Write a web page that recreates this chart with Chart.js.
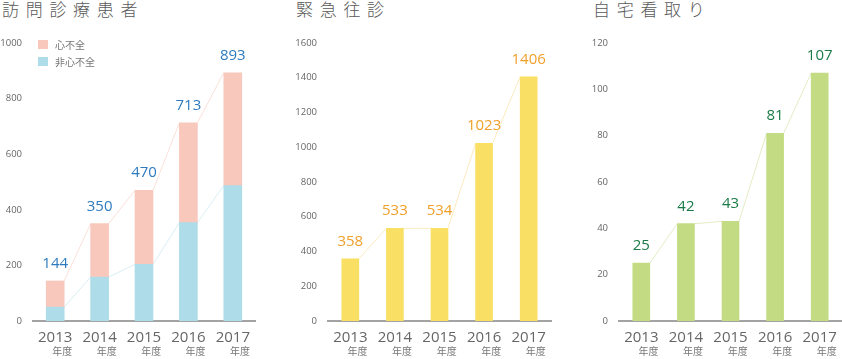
<!DOCTYPE html>
<html>
<head>
<meta charset="utf-8">
<script src="https://cdn.jsdelivr.net/npm/chart.js@4"></script>
<style>
  body { margin: 0; background: #fff; width: 842px; height: 359px; position: relative; overflow: hidden; }
  .title { position: absolute; top: -2px; font-family: "Noto Sans CJK JP", sans-serif; font-size: 17px; font-weight: 300;
           letter-spacing: 6.7px; color: #5a5a5a; line-height: 22px; white-space: nowrap; }
  canvas { position: absolute; top: 0; }
</style>
</head>
<body>
<div class="title" style="left:2px">訪問診療患者</div>
<div class="title" style="left:296px">緊急往診</div>
<div class="title" style="left:593px">自宅看取り</div>
<canvas id="c1" width="280" height="359" style="left:0px"></canvas>
<canvas id="c2" width="280" height="359" style="left:280px"></canvas>
<canvas id="c3" width="282" height="359" style="left:560px"></canvas>
<script>
// データ
const years = ['2013', '2014', '2015', '2016', '2017'];
const yearSuffix = '年度';
const heartFailure = [94, 192, 266, 359, 406];      // 心不全
const nonHeartFailure = [50, 158, 204, 354, 487];   // 非心不全
const emergencyVisits = [358, 533, 534, 1023, 1406]; // 緊急往診
const homeDeaths = [25, 42, 43, 81, 107];            // 自宅看取り

const yTicks1 = [0, 1000, 200];
const yTicks2 = [0, 1600, 200];
const yTicks3 = [0, 120, 20];

const patientTotals = years.map((y, i) => heartFailure[i] + nonHeartFailure[i]);

// 棒をつなぐ線、数値ラベル、年ラベル、凡例を描く
const decorPlugin = {
  id: 'decor',
  beforeDatasetsDraw(chart, args, opts) {
    const ctx = chart.ctx;
    (opts.lines || []).forEach(function(l) {
      const bars = chart.getDatasetMeta(l.dataset).data;
      ctx.save();
      ctx.strokeStyle = l.color;
      ctx.lineWidth = 1;
      ctx.beginPath();
      for (let i = 0; i < bars.length - 1; i++) {
        const a = bars[i], b = bars[i + 1];
        ctx.moveTo(a.x + a.width / 2, a.y);
        ctx.lineTo(b.x - b.width / 2, b.y);
      }
      ctx.stroke();
      ctx.restore();
    });
  },
  afterDraw(chart, args, opts) {
    const ctx = chart.ctx;
    const bottom = chart.chartArea.bottom;
    // 数値ラベル
    const topBars = chart.getDatasetMeta(opts.labelDataset).data;
    ctx.save();
    ctx.fillStyle = opts.labelColor;
    ctx.font = '15px "Open Sans"';
    ctx.textAlign = 'center';
    ctx.textBaseline = 'alphabetic';
    topBars.forEach((bar, i) => ctx.fillText(String(opts.labelValues[i]), bar.x, bar.y - 13));
    // 年ラベル
    const xs = chart.scales.x;
    years.forEach(function(y, i) {
      const x = xs.getPixelForTick(i);
      ctx.font = '15px "Open Sans"';
      ctx.fillStyle = '#666';
      ctx.textAlign = 'center';
      ctx.fillText(y, x, bottom + 21);
      const w = ctx.measureText(y).width;
      ctx.font = '10px "Noto Sans CJK JP"';
      ctx.fillStyle = '#777';
      ctx.textAlign = 'right';
      ctx.fillText(yearSuffix, x + w / 2, bottom + 34);
    });
    // 凡例
    if (opts.legend) {
      const ds = chart.data.datasets.slice().reverse();
      ds.forEach(function(d, i) {
        const y = 40 + i * 17;
        ctx.fillStyle = d.backgroundColor;
        ctx.fillRect(38, y, 10, 9);
        ctx.fillStyle = '#777';
        ctx.font = '10px "Noto Sans CJK JP"';
        ctx.textAlign = 'left';
        ctx.fillText(d.label, 55, y + 8.5);
      });
    }
    ctx.restore();
  }
};

function makeOptions(ticks, yWidth, padRight, decor) {
  return {
    responsive: false,
    animation: false,
    layout: { padding: { top: 43, right: padRight, bottom: 0, left: 0 } },
    plugins: { legend: { display: false }, tooltip: { enabled: false }, decor: decor },
    scales: {
      x: {
        stacked: true,
        ticks: { display: false },
        grid: { display: false },
        border: { color: '#a3a3a3', width: 2 },
        afterFit(s) { s.height = 38; }
      },
      y: {
        stacked: true,
        min: ticks[0], max: ticks[1],
        ticks: { stepSize: ticks[2], padding: 11, color: '#666', font: { family: 'Open Sans', size: 9.5 },
                 callback: v => String(v) },
        grid: { display: false, drawTicks: false },
        border: { display: false },
        afterFit(s) { s.width = yWidth; }
      }
    }
  };
}

new Chart(document.getElementById('c1'), {
  type: 'bar',
  data: {
    labels: years,
    datasets: [
      { label: '非心不全', data: nonHeartFailure, backgroundColor: '#aedce8', barThickness: 18 },
      { label: '心不全', data: heartFailure, backgroundColor: '#f8c8bd', barThickness: 18 }
    ]
  },
  options: makeOptions(yTicks1, 33, 25, {
    lines: [{ dataset: 0, color: '#d8eef3' }, { dataset: 1, color: '#fbe0d9' }],
    labelDataset: 1, labelValues: patientTotals, labelColor: '#2e7bbf', legend: true
  }),
  plugins: [decorPlugin]
});

new Chart(document.getElementById('c2'), {
  type: 'bar',
  data: {
    labels: years,
    datasets: [{ label: '緊急往診', data: emergencyVisits, backgroundColor: '#f9e064', barThickness: 17 }]
  },
  options: makeOptions(yTicks2, 48, 9, {
    lines: [{ dataset: 0, color: '#fcebc0' }],
    labelDataset: 0, labelValues: emergencyVisits, labelColor: '#f0a02a'
  }),
  plugins: [decorPlugin]
});

new Chart(document.getElementById('c3'), {
  type: 'bar',
  data: {
    labels: years,
    datasets: [{ label: '自宅看取り', data: homeDeaths, backgroundColor: '#c3dc83', barThickness: 17 }]
  },
  options: makeOptions(yTicks3, 59, 0, {
    lines: [{ dataset: 0, color: '#e2edc4' }],
    labelDataset: 0, labelValues: homeDeaths, labelColor: '#1a7a48'
  }),
  plugins: [decorPlugin]
});
</script>
</body>
</html>
